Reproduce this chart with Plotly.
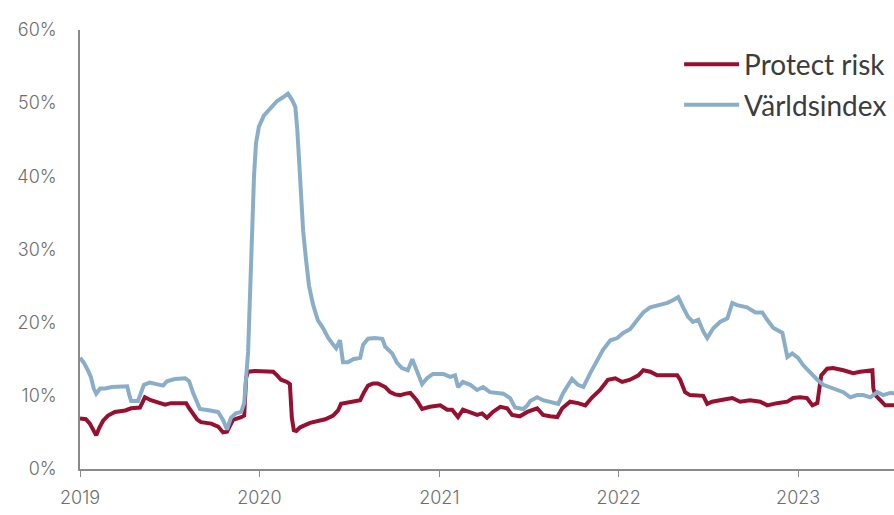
import plotly.graph_objects as go

# ---- Data ----
protect_dates = [
    "2019-01-01", "2019-01-13", "2019-01-21", "2019-01-27", "2019-02-03", "2019-02-09", "2019-02-17",
    "2019-02-27", "2019-03-13", "2019-04-03", "2019-04-15", "2019-05-03", "2019-05-09", "2019-05-13",
    "2019-05-25", "2019-06-09", "2019-06-23", "2019-07-05", "2019-07-24", "2019-08-05", "2019-08-11",
    "2019-08-19", "2019-08-27", "2019-09-04", "2019-09-25", "2019-10-09", "2019-10-19", "2019-10-27",
    "2019-11-02", "2019-11-08", "2019-11-25", "2019-12-01", "2019-12-05", "2019-12-09", "2019-12-23",
    "2020-01-12", "2020-01-29", "2020-02-06", "2020-02-14", "2020-02-26", "2020-03-03", "2020-03-07",
    "2020-03-11", "2020-03-16", "2020-03-24", "2020-04-13", "2020-04-29", "2020-05-14", "2020-05-30",
    "2020-06-09", "2020-06-15", "2020-06-29", "2020-07-10", "2020-07-24", "2020-08-01", "2020-08-09",
    "2020-08-19", "2020-08-29", "2020-09-13", "2020-09-23", "2020-10-03", "2020-10-13", "2020-10-25",
    "2020-11-03", "2020-11-11", "2020-11-17", "2020-11-27", "2020-12-13", "2021-01-03", "2021-01-17",
    "2021-01-27", "2021-02-02", "2021-02-08", "2021-02-18", "2021-03-05", "2021-03-19", "2021-03-29",
    "2021-04-08", "2021-04-20", "2021-05-05", "2021-05-19", "2021-05-29", "2021-06-14", "2021-06-29",
    "2021-07-19", "2021-07-31", "2021-08-14", "2021-08-29", "2021-09-08", "2021-09-24", "2021-10-10",
    "2021-10-25", "2021-11-08", "2021-11-24", "2021-12-10", "2021-12-25", "2022-01-08", "2022-01-24",
    "2022-02-10", "2022-02-20", "2022-03-06", "2022-03-20", "2022-04-10", "2022-04-30", "2022-05-06",
    "2022-05-16", "2022-05-26", "2022-06-10", "2022-06-22", "2022-06-30", "2022-07-10", "2022-07-26",
    "2022-08-20", "2022-09-05", "2022-09-25", "2022-10-16", "2022-10-30", "2022-11-19", "2022-12-10",
    "2022-12-22", "2023-01-05", "2023-01-19", "2023-01-30", "2023-02-09", "2023-02-13", "2023-02-17",
    "2023-03-01", "2023-03-13", "2023-04-03", "2023-04-23", "2023-05-07", "2023-05-24", "2023-06-01",
    "2023-06-03", "2023-06-07", "2023-06-17", "2023-06-27", "2023-07-15", "2023-07-28",
]
protect_values = [
    6.9, 6.8, 6.2, 5.4, 4.6, 5.6, 6.6,
    7.3, 7.8, 8.0, 8.3, 8.4, 9.2, 9.8,
    9.4, 9.1, 8.8, 9.0, 9.0, 9.0, 8.3,
    7.5, 6.8, 6.4, 6.2, 5.8, 5.0, 5.1,
    5.9, 6.7, 7.1, 7.3, 12.5, 13.3, 13.4,
    13.4, 13.3, 12.8, 12.2, 11.9, 11.6, 7.0,
    5.3, 5.2, 5.7, 6.3, 6.6, 6.8, 7.3,
    8.0, 8.9, 9.1, 9.2, 9.4, 10.5, 11.4,
    11.7, 11.7, 11.2, 10.5, 10.2, 10.1, 10.3,
    10.4, 9.8, 9.3, 8.2, 8.5, 8.7, 8.1,
    8.1, 7.5, 7.1, 8.1, 7.8, 7.4, 7.6,
    7.0, 7.8, 8.5, 8.3, 7.4, 7.2, 7.8,
    8.3, 7.4, 7.2, 7.1, 8.3, 9.2, 9.0,
    8.7, 9.8, 10.8, 12.2, 12.4, 11.9, 12.2,
    12.8, 13.5, 13.3, 12.8, 12.8, 12.8, 12.2,
    10.5, 10.1, 10.1, 10.0, 8.9, 9.2, 9.4,
    9.7, 9.2, 9.4, 9.2, 8.7, 9.0, 9.2,
    9.7, 9.8, 9.7, 8.7, 9.0, 11.0, 12.8,
    13.7, 13.8, 13.5, 13.1, 13.3, 13.5, 13.5,
    11.0, 10.1, 9.4, 8.7, 8.7, 8.8,
]

world_dates = [
    "2019-01-01", "2019-01-09", "2019-01-17", "2019-01-23", "2019-01-29", "2019-02-03", "2019-02-11",
    "2019-02-21", "2019-03-07", "2019-03-23", "2019-04-07", "2019-04-11", "2019-04-15", "2019-04-29",
    "2019-05-05", "2019-05-11", "2019-05-23", "2019-06-09", "2019-06-19", "2019-06-27", "2019-07-13",
    "2019-08-03", "2019-08-11", "2019-08-19", "2019-08-27", "2019-09-02", "2019-09-23", "2019-10-09",
    "2019-10-19", "2019-10-27", "2019-11-04", "2019-11-14", "2019-11-25", "2019-12-01", "2019-12-05",
    "2019-12-09", "2019-12-13", "2019-12-17", "2019-12-21", "2019-12-25", "2019-12-31", "2020-01-10",
    "2020-01-23", "2020-02-06", "2020-02-18", "2020-02-28", "2020-03-07", "2020-03-14", "2020-03-18",
    "2020-03-22", "2020-03-26", "2020-03-30", "2020-04-05", "2020-04-11", "2020-04-19", "2020-04-29",
    "2020-05-10", "2020-05-20", "2020-05-30", "2020-06-05", "2020-06-13", "2020-06-19", "2020-06-29",
    "2020-07-10", "2020-07-24", "2020-07-30", "2020-08-09", "2020-08-23", "2020-09-07", "2020-09-13",
    "2020-09-27", "2020-10-07", "2020-10-17", "2020-10-29", "2020-11-07", "2020-11-13", "2020-11-19",
    "2020-11-27", "2020-12-07", "2020-12-19", "2021-01-09", "2021-01-23", "2021-02-02", "2021-02-08",
    "2021-02-18", "2021-03-05", "2021-03-19", "2021-03-31", "2021-04-14", "2021-04-29", "2021-05-11",
    "2021-05-25", "2021-06-04", "2021-06-21", "2021-06-29", "2021-07-05", "2021-07-19", "2021-07-31",
    "2021-08-21", "2021-08-31", "2021-09-10", "2021-09-20", "2021-09-28", "2021-10-10", "2021-10-21",
    "2021-11-04", "2021-11-18", "2021-11-30", "2021-12-15", "2021-12-29", "2022-01-10", "2022-01-24",
    "2022-02-08", "2022-02-20", "2022-03-06", "2022-03-26", "2022-04-10", "2022-04-22", "2022-05-02",
    "2022-05-12", "2022-05-22", "2022-06-01", "2022-06-12", "2022-06-22", "2022-06-30", "2022-07-12",
    "2022-07-26", "2022-08-10", "2022-08-20", "2022-08-30", "2022-09-19", "2022-10-06", "2022-10-20",
    "2022-10-30", "2022-11-11", "2022-11-30", "2022-12-06", "2022-12-10", "2022-12-20", "2023-01-01",
    "2023-01-11", "2023-01-26", "2023-02-09", "2023-02-21", "2023-03-07", "2023-03-22", "2023-04-03",
    "2023-04-17", "2023-05-01", "2023-05-13", "2023-05-28", "2023-06-11", "2023-06-23", "2023-07-07",
    "2023-07-28",
]
world_values = [
    15.2, 14.5, 13.5, 12.6, 11.0, 10.3, 11.0,
    11.0, 11.2, 11.3, 11.3, 10.2, 9.3, 9.3,
    10.5, 11.5, 11.8, 11.5, 11.4, 12.0, 12.3,
    12.4, 12.0, 10.4, 9.0, 8.2, 8.0, 7.8,
    6.7, 5.4, 7.0, 7.6, 7.8, 9.0, 12.5,
    16.0, 24.0, 33.0, 40.0, 44.5, 46.8, 48.3,
    49.3, 50.3, 50.8, 51.3, 50.5, 49.5, 46.5,
    41.0, 36.0, 32.5, 28.5, 25.0, 22.5, 20.3,
    19.2, 17.9, 17.0, 16.5, 17.6, 14.6, 14.6,
    15.0, 15.2, 17.0, 17.8, 17.9, 17.8, 16.7,
    15.8, 14.5, 13.8, 13.5, 15.0, 14.0, 13.3,
    11.6, 12.4, 13.0, 13.0, 12.6, 12.8, 11.2,
    11.9, 11.5, 10.8, 11.2, 10.5, 10.4, 10.3,
    9.7, 8.4, 8.2, 8.7, 9.3, 9.8, 9.4,
    9.0, 8.9, 10.4, 11.5, 12.3, 11.5, 11.2,
    13.1, 14.9, 16.3, 17.6, 17.9, 18.6, 19.1,
    20.4, 21.4, 22.1, 22.4, 22.7, 23.1, 23.5,
    22.1, 20.8, 20.1, 20.4, 18.8, 17.9, 19.2,
    20.1, 20.6, 22.7, 22.4, 22.1, 21.4, 21.4,
    20.4, 19.3, 18.6, 16.7, 15.3, 15.8, 15.2,
    14.2, 13.1, 12.2, 11.5, 11.2, 10.8, 10.5,
    9.8, 10.1, 10.1, 9.8, 10.5, 10.1, 10.4,
    10.3,
]

series_names = ["Protect risk", "Världsindex"]
series_colors = ["#97102f", "#8aaec7"]

y_ticks = [0, 10, 20, 30, 40, 50, 60]
y_tick_labels = ["0%", "10%", "20%", "30%", "40%", "50%", "60%"]
x_ticks = ["2019-01-01", "2020-01-01", "2021-01-01", "2022-01-01", "2023-01-01"]
x_tick_labels = ["2019", "2020", "2021", "2022", "2023"]
x_range = ["2019-01-01", "2023-07-15"]

# ---- Figure ----
fig = go.Figure()
fig.add_trace(go.Scatter(
    x=protect_dates, y=protect_values, mode="lines", name=series_names[0],
    legendgroup="a", line=dict(color=series_colors[0], width=4),
))
fig.add_trace(go.Scatter(
    x=world_dates, y=world_values, mode="lines", name=series_names[1],
    legendgroup="b", line=dict(color=series_colors[1], width=4),
))

tick_font = dict(family="Inter", size=18, color="#6e6e6e", weight=300)

fig.update_layout(
    width=894, height=515,
    margin=dict(l=80, r=0, t=30, b=46, autoexpand=False),
    paper_bgcolor="white", plot_bgcolor="white",
    showlegend=True,
    legend=dict(
        x=0.736, y=0.978, xanchor="left", yanchor="top",
        font=dict(family="Lato", size=28, color="#3c3c3c"),
        bgcolor="rgba(0,0,0,0)", tracegroupgap=1,
        traceorder="grouped", itemwidth=55,
    ),
    xaxis=dict(
        type="date", range=x_range,
        tickvals=x_ticks, ticktext=x_tick_labels,
        showgrid=False, zeroline=False,
        showline=True, linecolor="#8a8a8a", linewidth=1.5,
        ticks="outside", ticklen=6, tickcolor="#8a8a8a", tickwidth=1.2,
        ticklabelstandoff=6,
        tickfont=tick_font,
    ),
    yaxis=dict(
        range=[0, 60], tickvals=y_ticks, ticktext=y_tick_labels,
        showgrid=False, zeroline=False,
        showline=True, linecolor="#8a8a8a", linewidth=1.5,
        ticks="", ticklabelstandoff=18,
        tickfont=tick_font,
    ),
)

fig.write_html("out.html")
